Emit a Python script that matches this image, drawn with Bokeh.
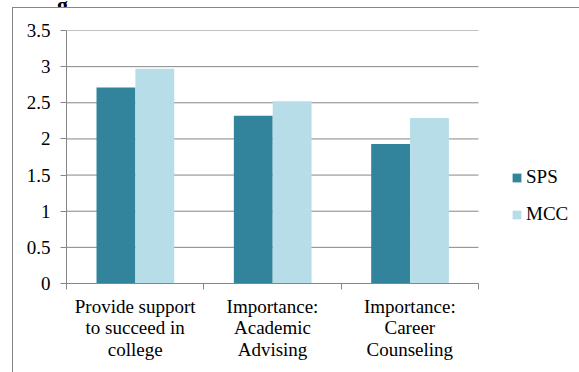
from bokeh.plotting import figure
from bokeh.models import (FixedTicker, Legend, LegendItem, ColumnDataSource, Range1d, Div)
from bokeh.layouts import column
from bokeh.embed import file_html
from bokeh.resources import INLINE

categories = ["Provide support\nto succeed in\ncollege",
              "Importance:\nAcademic\nAdvising",
              "Importance:\nCareer\nCounseling"]
sps = [2.71, 2.32, 1.93]
mcc = [2.97, 2.52, 2.29]
series_names = ["SPS", "MCC"]
colors = ["#31849B", "#B7DEE8"]
y_ticks = [0, 0.5, 1, 1.5, 2, 2.5, 3, 3.5]

FONT = "'Liberation Serif', 'Times New Roman', serif"
GREY = "#868686"
FS = "19px"

n = len(categories)
plot_px = 412          # width of the category area in pixels
frame_px = 513         # frame extends to the right edge to host the legend

p = figure(width=567, height=365, output_backend="svg", toolbar_location=None,
           x_range=Range1d(0, n * frame_px / plot_px), y_range=Range1d(0, 3.5),
           min_border_left=54, min_border_right=0, min_border_top=23,
           min_border_bottom=89, margin=(0, 0, 0, 12),
           styles={"box-shadow": "inset 1px 1px 0 0 #868686"})
p.outline_line_color = None
p.background_fill_color = None
p.border_fill_color = None

# horizontal gridlines over the category area only
p.segment(x0=[0] * len(y_ticks), x1=[n] * len(y_ticks), y0=y_ticks, y1=y_ticks,
          line_color=GREY, line_width=1, level="underlay")

centers = [i + 0.5 for i in range(n)]
src = ColumnDataSource(dict(
    x_sps=[c - 0.14 for c in centers],
    x_mcc=[c + 0.143 for c in centers],
    sps=sps, mcc=mcc))

r1 = p.vbar(x="x_sps", top="sps", width=0.283, source=src, fill_color=colors[0], line_color=None)
r2 = p.vbar(x="x_mcc", top="mcc", width=0.283, source=src, fill_color=colors[1], line_color=None)

# x axis
xa = p.xaxis[0]
xa.bounds = (0, n)
xa.ticker = FixedTicker(ticks=centers, minor_ticks=list(range(n + 1)))
xa.major_label_overrides = {c: lab for c, lab in zip(centers, categories)}
xa.major_tick_line_color = None
xa.major_tick_out = 0
xa.major_tick_in = 0
xa.minor_tick_line_color = GREY
xa.minor_tick_out = 6
xa.minor_tick_in = 0
xa.axis_line_color = GREY
xa.major_label_text_font = FONT
xa.major_label_text_font_size = FS
xa.major_label_text_color = "black"
xa.major_label_text_line_height = 1.04
xa.major_label_standoff = 6

# y axis
ya = p.yaxis[0]
ya.ticker = FixedTicker(ticks=y_ticks)
ya.major_label_overrides = {t: ("%g" % t) for t in y_ticks}
ya.minor_tick_line_color = None
ya.major_tick_line_color = GREY
ya.major_tick_out = 6
ya.major_tick_in = 0
ya.axis_line_color = GREY
ya.major_label_text_font = FONT
ya.major_label_text_font_size = FS
ya.major_label_text_color = "black"
ya.major_label_standoff = 10

p.xgrid.grid_line_color = None
p.ygrid.grid_line_color = None

legend = Legend(items=[LegendItem(label=series_names[0], renderers=[r1]),
                       LegendItem(label=series_names[1], renderers=[r2])],
                location=(445, 58), orientation="vertical",
                glyph_width=11, glyph_height=11, label_height=20, spacing=15,
                label_standoff=4, padding=0, margin=0,
                border_line_color=None, background_fill_alpha=0,
                label_text_font=FONT, label_text_font_size=FS,
                label_text_color="black")
p.add_layout(legend)

# clipped title remnant above the chart border
top = Div(text="<div style=\"font: bold 22px 'Liberation Serif'; line-height:22px; "
               "margin-top:-18px; margin-left:57px; color:black;\">g</div>",
          width=579, height=7, margin=0,
          styles={"overflow": "hidden"})

layout = column(top, p, spacing=0)
open("out.html", "w").write(file_html(layout, INLINE))
